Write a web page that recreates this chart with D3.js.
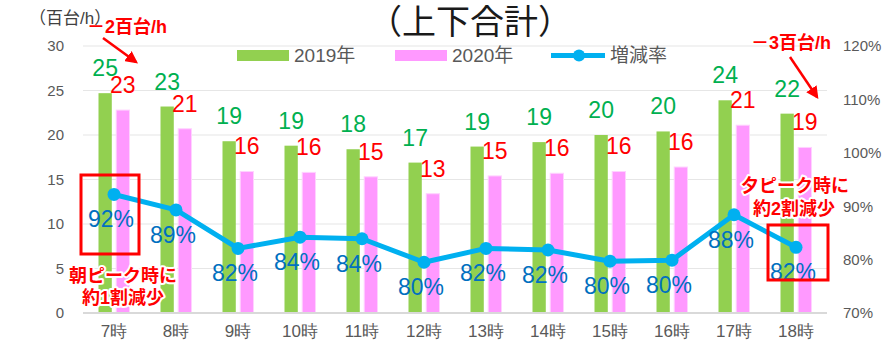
<!DOCTYPE html>
<html>
<head>
<meta charset="utf-8">
<script src="https://cdn.jsdelivr.net/npm/d3@7/dist/d3.min.js"></script>
<style>
  html, body { margin: 0; padding: 0; background: #fff; }
  svg { display: block; font-family: "Liberation Sans", Arial, "Noto Sans CJK JP", sans-serif; }
</style>
</head>
<body>
<svg id="chart" width="885" height="347"></svg>
<script>
// Traffic volume per hour (hundreds of vehicles / h), both directions combined
const hours = ["7時", "8時", "9時", "10時", "11時", "12時", "13時", "14時", "15時", "16時", "17時", "18時"];
const vol2019 = [24.7, 23.2, 19.3, 18.8, 18.4, 16.9, 18.7, 19.2, 20.0, 20.4, 23.9, 22.4];
const vol2020 = [22.8, 20.7, 15.9, 15.8, 15.3, 13.4, 15.4, 15.7, 15.9, 16.4, 21.1, 18.6];
const rate = [0.922, 0.893, 0.821, 0.842, 0.839, 0.795, 0.821, 0.818, 0.797, 0.799, 0.884, 0.823];
const leftTicks = [0, 5, 10, 15, 20, 25, 30];
const rightTicks = [0.7, 0.8, 0.9, 1.0, 1.1, 1.2];
const seriesNames = ["2019年", "2020年", "増減率"];

const svg = d3.select("#chart");
const plot = { left: 83, right: 827, top: 46, bottom: 313 };

const x = d3.scaleBand().domain(hours).range([plot.left, plot.right]).padding(0);
const xInner = d3.scaleBand().domain(["2019", "2020"]).range([15.5, 46.5]).paddingInner(0.25);
const yL = d3.scaleLinear().domain([0, 30]).range([plot.bottom, plot.top]);
const yR = d3.scaleLinear().domain([0.7, 1.2]).range([plot.bottom, plot.top]);

const grey = "#595959";

// Gridlines
svg.append("g")
  .selectAll("line")
  .data(leftTicks.filter(d => d > 0))
  .join("line")
  .attr("x1", plot.left).attr("x2", plot.right)
  .attr("y1", d => yL(d)).attr("y2", d => yL(d))
  .attr("stroke", "#e6e6e6").attr("stroke-width", 1.2);

// Left axis
const axL = svg.append("g")
  .attr("transform", `translate(${plot.left - 19},0)`)
  .call(d3.axisLeft(yL).tickValues(leftTicks).tickSize(0).tickPadding(0).tickFormat(d3.format("d")));
axL.select(".domain").remove();
axL.selectAll("text").attr("fill", grey).attr("font-size", 15)
  .attr("font-family", "'Liberation Sans', Arial, sans-serif");

// Right axis
const axR = svg.append("g")
  .attr("transform", `translate(${843},0)`)
  .call(d3.axisRight(yR).tickValues(rightTicks).tickSize(0).tickPadding(0).tickFormat(d3.format(".0%")));
axR.select(".domain").remove();
axR.selectAll("text").attr("fill", grey).attr("font-size", 15)
  .attr("font-family", "'Liberation Sans', Arial, sans-serif");

// Bottom axis
const axB = svg.append("g")
  .attr("transform", `translate(0,${plot.bottom})`)
  .call(d3.axisBottom(x).tickSize(0).tickPadding(12));
axB.select(".domain").remove();
axB.selectAll("text").attr("fill", grey).attr("font-size", 17);

// Bars
const barsG = svg.append("g");
barsG.selectAll("rect.b19")
  .data(hours)
  .join("rect")
  .attr("class", "b19")
  .attr("x", (d) => x(d) + xInner("2019"))
  .attr("width", xInner.bandwidth())
  .attr("y", (d, i) => yL(vol2019[i]))
  .attr("height", (d, i) => yL(0) - yL(vol2019[i]))
  .attr("fill", "#92D050");
barsG.selectAll("rect.b20")
  .data(hours)
  .join("rect")
  .attr("class", "b20")
  .attr("x", (d) => x(d) + xInner("2020"))
  .attr("width", xInner.bandwidth())
  .attr("y", (d, i) => yL(vol2020[i]))
  .attr("height", (d, i) => yL(0) - yL(vol2020[i]))
  .attr("fill", "#FF99FF")
  .attr("stroke", "#ffd2ff").attr("stroke-width", 1);

// Baseline
svg.append("line")
  .attr("x1", plot.left).attr("x2", plot.right)
  .attr("y1", yL(0)).attr("y2", yL(0))
  .attr("stroke", "#d9d9d9").attr("stroke-width", 2);

// Rate line
const line = d3.line()
  .x((d, i) => x(hours[i]) + x.bandwidth() / 2)
  .y(d => yR(d));
svg.append("path")
  .datum(rate)
  .attr("d", line)
  .attr("fill", "none")
  .attr("stroke", "#00B0F0")
  .attr("stroke-width", 5)
  .attr("stroke-linejoin", "round");
svg.append("g").selectAll("circle")
  .data(rate)
  .join("circle")
  .attr("cx", (d, i) => x(hours[i]) + x.bandwidth() / 2)
  .attr("cy", d => yR(d))
  .attr("r", 6.5)
  .attr("fill", "#00B0F0");

// Value labels
const fmtInt = d3.format(".0f");
const lbl = svg.append("g").attr("font-size", 23)
  .attr("font-family", "'Liberation Sans', Arial, sans-serif")
  .attr("text-anchor", "middle");
lbl.selectAll("text.l19")
  .data(vol2019)
  .join("text")
  .attr("x", (d, i) => x(hours[i]) + xInner("2019") + xInner.bandwidth() / 2)
  .attr("y", d => yL(d) - 17)
  .attr("fill", "#00B050")
  .text(d => fmtInt(d));
lbl.selectAll("text.l20")
  .data(vol2020)
  .join("text")
  .attr("x", (d, i) => x(hours[i]) + xInner("2020") + xInner.bandwidth() / 2)
  .attr("y", d => yL(d) - 17)
  .attr("fill", "#FF0000")
  .text(d => fmtInt(d));
lbl.selectAll("text.lr")
  .data(rate)
  .join("text")
  .attr("x", (d, i) => x(hours[i]) + x.bandwidth() / 2 - 3)
  .attr("y", d => yR(d) + 33)
  .attr("fill", "#0070C0")
  .text(d => d3.format(".0%")(d));

// Title and unit
svg.append("text")
  .attr("x", 470).attr("y", 34)
  .attr("text-anchor", "middle")
  .attr("font-size", 34)
  .attr("fill", "#1a1a1a")
  .text("（上下合計）");
svg.append("text")
  .attr("x", 29).attr("y", 24)
  .attr("font-size", 17)
  .attr("fill", "#404040")
  .text("（百台/h）");

// Legend
const legend = svg.append("g").attr("font-size", 19).attr("fill", grey);
legend.append("rect").attr("x", 237).attr("y", 50).attr("width", 52).attr("height", 11).attr("fill", "#92D050");
legend.append("text").attr("x", 294).attr("y", 62).text(seriesNames[0]);
legend.append("rect").attr("x", 395).attr("y", 50).attr("width", 52).attr("height", 11).attr("fill", "#FF99FF");
legend.append("text").attr("x", 452).attr("y", 62).text(seriesNames[1]);
legend.append("line").attr("x1", 551).attr("x2", 605).attr("y1", 55.5).attr("y2", 55.5)
  .attr("stroke", "#00B0F0").attr("stroke-width", 5);
legend.append("circle").attr("cx", 579).attr("cy", 55.5).attr("r", 6).attr("fill", "#00B0F0");
legend.append("text").attr("x", 610).attr("y", 62).text(seriesNames[2]);

// Annotations
const red = "#FF0000";
svg.append("defs").append("marker")
  .attr("id", "arrow")
  .attr("viewBox", "0 0 10 10")
  .attr("refX", 8).attr("refY", 5)
  .attr("markerWidth", 5).attr("markerHeight", 5)
  .attr("orient", "auto")
  .append("path").attr("d", "M0,0 L10,5 L0,10 Z").attr("fill", red);

const ann = svg.append("g").attr("font-weight", "bold").attr("fill", red);
ann.append("text").attr("x", 87).attr("y", 33).attr("font-size", 18).text("－2百台/h");
ann.append("line").attr("x1", 103).attr("y1", 38).attr("x2", 136).attr("y2", 62)
  .attr("stroke", red).attr("stroke-width", 2.5).attr("marker-end", "url(#arrow)");
ann.append("text").attr("x", 751).attr("y", 49).attr("font-size", 18).text("－3百台/h");
ann.append("line").attr("x1", 790).attr("y1", 57).attr("x2", 817).attr("y2", 97)
  .attr("stroke", red).attr("stroke-width", 2.5).attr("marker-end", "url(#arrow)");

// Highlight boxes
svg.append("rect").attr("x", 81).attr("y", 175).attr("width", 58).attr("height", 79)
  .attr("fill", "none").attr("stroke", red).attr("stroke-width", 3);
svg.append("rect").attr("x", 768).attr("y", 225).attr("width", 60).attr("height", 55)
  .attr("fill", "none").attr("stroke", red).attr("stroke-width", 3);

const callout = svg.append("g")
  .attr("font-weight", "bold").attr("font-size", 18)
  .attr("text-anchor", "middle")
  .attr("fill", red)
  .attr("stroke", "#fff").attr("stroke-width", 4)
  .attr("stroke-linejoin", "round")
  .attr("paint-order", "stroke");
callout.append("text").attr("x", 123).attr("y", 282).text("朝ピーク時に");
callout.append("text").attr("x", 123).attr("y", 304).text("約1割減少");
callout.append("text").attr("x", 795).attr("y", 192).text("夕ピーク時に");
callout.append("text").attr("x", 794).attr("y", 215).text("約2割減少");
</script>
</body>
</html>
